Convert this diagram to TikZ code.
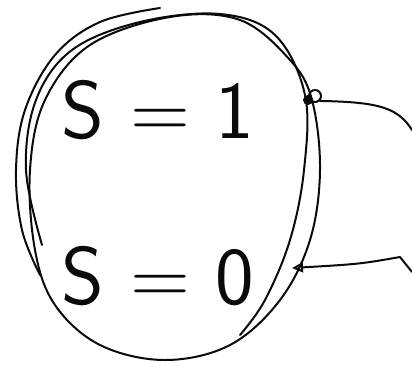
\documentclass[tikz,border=0pt]{standalone}
\usepackage{tikz}
\usetikzlibrary{positioning, arrows.meta}
\definecolor{InkBlack}{RGB}{10, 10, 10}

\begin{document}
\begin{tikzpicture}[x=1pt, y=-1pt, line cap=round, line join=round,
    stroke/.style={InkBlack, line width=2pt},
    label/.style={InkBlack, font=\sffamily\fontsize{82}{82}\selectfont, inner sep=0pt}]
    \useasboundingbox (0,0) rectangle (412,365);
    \draw[stroke] plot[smooth cycle, tension=0.6] coordinates {(170,17) (240,20) (290,60) (312,100) (320,170) (310,240) (280,300) (230,345) (165,360) (100,345) (55,305) (35,250) (30,170) (45,100) (90,45)};
    \draw[stroke] plot[smooth, tension=0.6] coordinates {(160,8) (100,22) (55,55) (25,110) (16,170) (22,230) (40,275)};
    \draw[stroke] plot[smooth, tension=0.6] coordinates {(42,245) (26,170) (36,100) (72,50) (140,22) (220,14) (275,35) (305,95) (304,170) (290,240) (265,300) (240,335)};
    \node[label] (sone) at (158,110) {S = 1};
    \node[label] (szero) at (158,276) {S = 0};
    \node[stroke, draw, circle, minimum size=12pt, inner sep=0pt] (dot) at (315,96) {};
    \fill[InkBlack] (308,100) circle (5pt);
    \coordinate (out1) at (412,130);
    \draw[stroke] (dot.south east) .. controls (380,102) and (398,108) .. (out1);
    \coordinate (tip0) at (292,268);
    \coordinate (kink) at (400,257);
    \coordinate (in0) at (412,272);
    \draw[stroke, -{Triangle[open, length=11pt, width=10pt]}] (in0) -- (kink) .. controls (360,264) .. (tip0);
\end{tikzpicture}
\end{document}
